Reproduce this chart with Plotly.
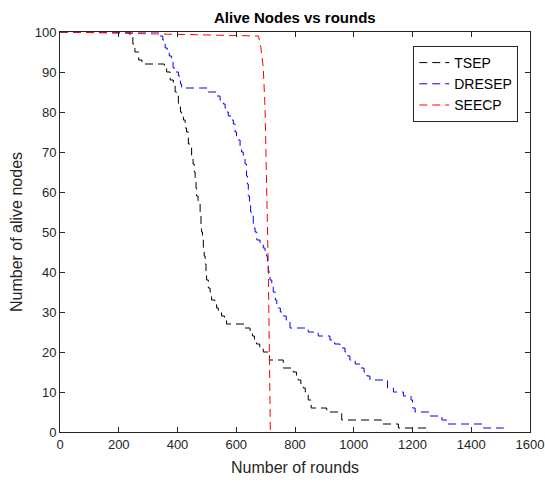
import plotly.graph_objects as go

# TSEP (black) step points: round where new alive count begins
tsep_rounds = [0, 238, 248, 255, 268, 279, 355, 363, 375, 386, 392, 397, 403, 410, 414, 420, 426, 431,
               437, 443, 448, 453, 457, 460, 463, 465, 470, 477, 480, 482, 485, 488, 491, 494, 497, 499,
               505, 511, 516, 527, 533, 539, 550, 560, 567, 630, 647, 655, 662, 669, 680, 692, 713, 760,
               794, 805, 811, 820, 828, 835, 845, 855, 908, 959, 1095, 1152, 1250]
tsep_alive = [100, 99, 97, 95, 93, 92, 91, 90, 88, 87, 85, 84, 82, 80, 79, 78, 76, 75,
              72, 71, 69, 67, 65, 63, 61, 59, 57, 54, 52, 50, 48, 46, 44, 42, 40, 38,
              36, 35, 33, 32, 31, 30, 29, 28, 27, 26, 25, 24, 23, 22, 21, 20, 18, 16,
              15, 14, 13, 12, 11, 10, 8, 6, 5, 3, 2, 1, 0]

# DRESEP (blue)
dresep_rounds = [0, 340, 350, 358, 365, 372, 380, 385, 395, 403, 410, 414, 505, 533, 545, 556, 562, 568,
                 573, 584, 590, 596, 601, 607, 613, 618, 624, 630, 635, 638, 641, 645, 649, 652, 658,
                 664, 670, 681, 692, 698, 703, 706, 709, 715, 721, 726, 733, 738, 743, 750, 760, 770,
                 783, 845, 879, 919, 935, 953, 970, 980, 987, 1005, 1021, 1035, 1045, 1055, 1115, 1135,
                 1169, 1195, 1200, 1209, 1260, 1300, 1316, 1441, 1510]
dresep_alive = [100, 99, 98, 96, 95, 94, 93, 91, 90, 89, 87, 86, 85, 84, 83, 82, 81, 80,
                79, 78, 77, 75, 74, 73, 71, 70, 69, 67, 64, 62, 59, 57, 55, 54, 51,
                50, 48, 47, 46, 45, 44, 42, 40, 38, 37, 35, 33, 32, 31, 30, 29, 28,
                26, 25, 24, 23, 22, 21, 20, 19, 18, 17, 16, 15, 14, 13, 11, 10,
                9, 8, 6, 5, 4, 3, 2, 1, 0]

# SEECP (red)
seecp_rounds = [0, 676, 684, 692, 698, 701, 704, 707, 709, 711, 713, 715, 716]
seecp_alive = [100, 99, 96, 91, 81, 72, 62, 50, 41, 30, 18, 5, 0]

x_ticks = [0, 200, 400, 600, 800, 1000, 1200, 1400, 1600]
y_ticks = [0, 10, 20, 30, 40, 50, 60, 70, 80, 90, 100]

FONT = "Liberation Sans, Arial"

fig = go.Figure()
dash = "8px,5px"
fig.add_trace(go.Scatter(x=tsep_rounds, y=tsep_alive, mode="lines", name="TSEP",
                         line=dict(color="#000000", width=1, dash=dash, shape="hv")))
fig.add_trace(go.Scatter(x=dresep_rounds, y=dresep_alive, mode="lines", name="DRESEP",
                         line=dict(color="#0000ff", width=1, dash=dash, shape="hv")))
fig.add_trace(go.Scatter(x=seecp_rounds, y=seecp_alive, mode="lines", name="SEECP",
                         line=dict(color="#ff0000", width=1, dash=dash, shape="linear")))

axis_common = dict(showline=True, linecolor="#262626", linewidth=1, mirror="ticks",
                   ticks="inside", ticklen=5, tickcolor="#262626", showgrid=False, zeroline=False,
                   automargin=False,
                   tickfont=dict(family=FONT, size=13, color="#262626"))

fig.update_layout(
    width=545, height=482,
    margin=dict(l=60, r=15, t=32, b=50),
    paper_bgcolor="white", plot_bgcolor="white",
    title=dict(text="<b>Alive Nodes vs rounds</b>", x=0.541, xanchor="center",
               y=1 - 18 / 482, yanchor="middle",
               font=dict(family=FONT, size=15, color="black")),
    xaxis=dict(range=[0, 1600], tickvals=x_ticks, title=dict(text="Number of rounds", standoff=11,
               font=dict(family=FONT, size=16, color="#262626")), **axis_common),
    yaxis=dict(range=[0, 100], tickvals=y_ticks, title=dict(text="Number of alive nodes", standoff=8,
               font=dict(family=FONT, size=16, color="#262626")), **axis_common),
    legend=dict(x=0.975, y=0.965, xanchor="right", yanchor="top", bgcolor="white",
                bordercolor="#262626", borderwidth=1,
                font=dict(family=FONT, size=14, color="black"),
                tracegroupgap=0, itemwidth=30),
    showlegend=True,
)

fig.write_html("out.html", post_script="document.body.style.margin='0';",
               config={"displayModeBar": False})
